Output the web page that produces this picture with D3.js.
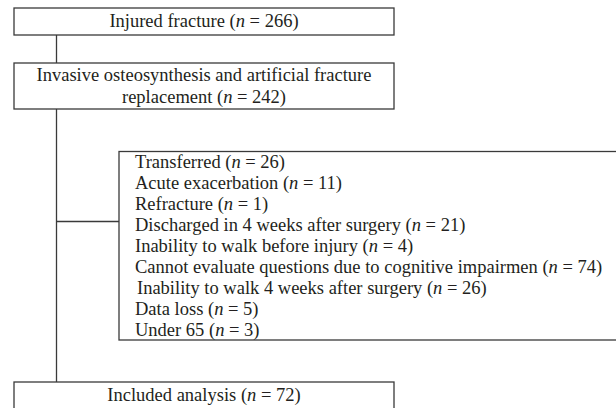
<!DOCTYPE html>
<html>
<head>
<meta charset="utf-8">
<script src="https://cdn.jsdelivr.net/npm/d3@7"></script>
<style>
  body { margin: 0; background: #fff; }
</style>
</head>
<body>
<svg id="chart" width="616" height="408"></svg>
<script>
// flow steps (main column)
const stepLabels = [
    ["Injured fracture"],
    ["Invasive osteosynthesis and artificial fracture", "replacement"],
    ["Included analysis"]
];
const stepCounts = [266, 242, 72];

// exclusions box
const excludeLabels = [
    "Transferred",
    "Acute exacerbation",
    "Refracture",
    "Discharged in 4 weeks after surgery",
    "Inability to walk before injury",
    "Cannot evaluate questions due to cognitive impairmen",
    "Inability to walk 4 weeks after surgery",
    "Data loss",
    "Under 65"
];
const excludeCounts = [26, 11, 1, 21, 4, 74, 26, 5, 3];

const svg = d3.select("#chart");
const lineColor = "#3a3a3a";
const textColor = "#231f20";
const fontFamily = "Liberation Serif";
const fontSize = 18.5;

// boxes of the main column
const mainLeft = 14, mainRight = 394;
const mainBoxes = [
    {top: 8, bottom: 35},
    {top: 63, bottom: 109},
    {top: 382, bottom: 420}
];
const spineX = 56.5;

// spine
svg.append("line")
   .attr("x1", spineX).attr("x2", spineX)
   .attr("y1", mainBoxes[0].bottom).attr("y2", mainBoxes[2].top)
   .attr("stroke", lineColor)
   .attr("stroke-width", 1.3);

const addLabel = (sel, label, n) => {
    sel.append("tspan").text(label + " (");
    sel.append("tspan").attr("font-style", "italic").text("n");
    sel.append("tspan").text(" = " + n + ")");
};

const newText = (x, yy) => svg.append("text")
    .attr("x", x)
    .attr("y", yy)
    .attr("dy", "0.32em")
    .attr("font-family", fontFamily)
    .attr("fill", textColor)
    .style("font-size", fontSize + "px");

mainBoxes.forEach((b, i) => {
    svg.append("rect")
       .attr("x", mainLeft)
       .attr("y", b.top)
       .attr("width", mainRight - mainLeft)
       .attr("height", b.bottom - b.top)
       .attr("fill", "#fff")
       .attr("stroke", lineColor)
       .attr("stroke-width", 1.3);

    const lines = stepLabels[i];
    const ly = d3.scalePoint()
                 .domain(d3.range(lines.length))
                 .range([0, (lines.length - 1) * 22]);
    const cy = i === 2 ? 395 : (b.top + b.bottom) / 2;
    const y0 = cy - (lines.length - 1) * 11;

    lines.forEach((l, j) => {
        const t = newText((mainLeft + mainRight) / 2, y0 + ly(j))
                    .attr("text-anchor", "middle");
        if (j === lines.length - 1) addLabel(t, l, stepCounts[i]);
        else t.text(l);
    });
});

// exclusion box
const exLeft = 119, exRight = 618, exTop = 151.5, exBottom = 340;
svg.append("rect")
   .attr("x", exLeft)
   .attr("y", exTop)
   .attr("width", exRight - exLeft)
   .attr("height", exBottom - exTop)
   .attr("fill", "#fff")
   .attr("stroke", lineColor)
   .attr("stroke-width", 1.3);

const y = d3.scalePoint()
            .domain(excludeLabels)
            .range([162, 330]);

svg.append("line")
   .attr("x1", spineX).attr("x2", exLeft)
   .attr("y1", 221.5).attr("y2", 221.5)
   .attr("stroke", lineColor)
   .attr("stroke-width", 1.3);

excludeLabels.forEach((l, i) => {
    // the source nudges the 7th row a little to the right
    const t = newText(i === 6 ? 137 : 135, y(l));
    addLabel(t, l, excludeCounts[i]);
});
</script>
</body>
</html>
